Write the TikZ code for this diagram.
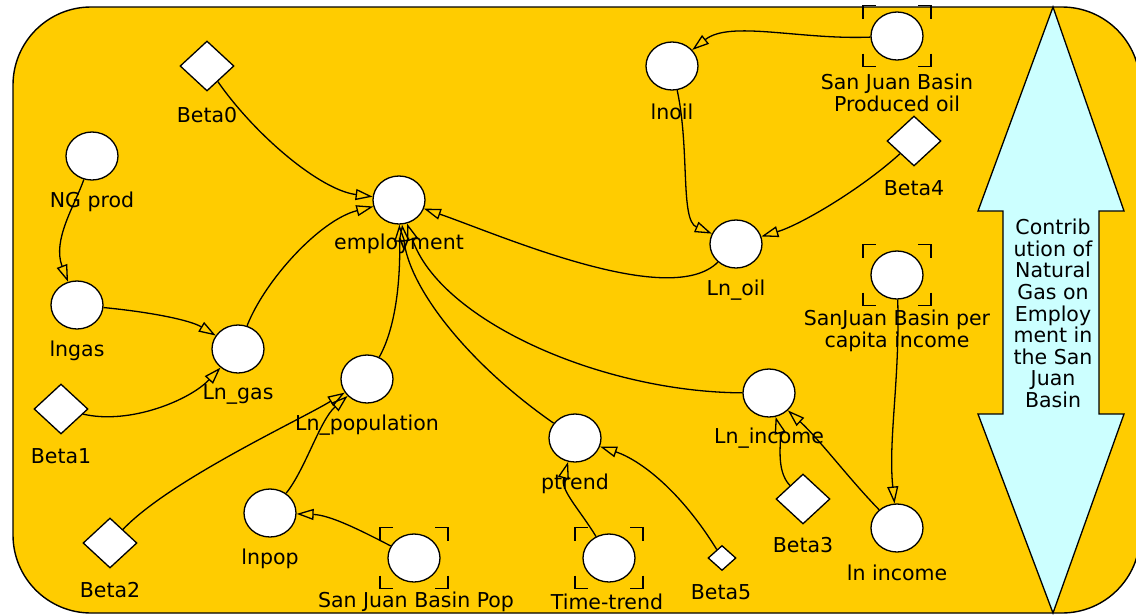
\documentclass[tikz,border=0pt]{standalone}
\usepackage{fontspec}
\setmainfont{DejaVu Sans}
\usetikzlibrary{shapes.geometric,arrows.meta}
\definecolor{bgyellow}{RGB}{255,204,0}
\definecolor{arrowcyan}{RGB}{204,255,255}
\tikzset{
  every node/.style={font=\fontsize{20.5}{21.6}\selectfont},
  var/.style={ellipse,draw=black,fill=white,line width=1.3pt,minimum width=52pt,minimum height=48pt,inner sep=0pt},
  par/.style={diamond,draw=black,fill=white,line width=1.3pt,minimum width=54pt,minimum height=50pt,inner sep=0pt},
  smallpar/.style={diamond,draw=black,fill=white,line width=1.3pt,minimum width=28pt,minimum height=25pt,inner sep=0pt},
  lbl/.style={inner sep=0pt,align=center},
  link/.style={draw=black,line width=1.3pt,-{Triangle[open,length=17pt,width=11pt]}},
  pics/brk/.style={code={
    \draw[line width=1.3pt] (-34,-17.5) -- (-34,-30.5) -- (-21,-30.5);
    \draw[line width=1.3pt] (34,-17.5) -- (34,-30.5) -- (21,-30.5);
    \draw[line width=1.3pt] (-34,17.5) -- (-34,30.5) -- (-21,30.5);
    \draw[line width=1.3pt] (34,17.5) -- (34,30.5) -- (21,30.5);
  }}
}
\begin{document}
\begin{tikzpicture}[x=1pt,y=-1pt]
\useasboundingbox (0,0) rectangle (1136,614);
% frame
\draw[fill=bgyellow,line width=1.4pt,rounded corners=78pt] (13,7) rectangle (1140,613);
% big double arrow
\draw[fill=arrowcyan,line width=1.3pt,line join=miter] (1053,7) -- (1124,211) -- (1099,211) -- (1099,414) -- (1124,414) -- (1053,613) -- (978,414) -- (1003,414) -- (1003,211) -- (978,211) -- cycle;
\node[lbl] (contrib) at (1053,313.5) {Contrib\\ution of\\Natural\\Gas on\\Employ\\ment in\\the San\\Juan\\Basin};

% nodes
\node[var] (emp) at (399,200) {};
\node[lbl] (emp-t) at (399,244) {employment};
\node[var] (ngprod) at (92,156) {};
\node[lbl] (ngprod-t) at (92,202) {NG prod};
\node[var] (lngas) at (77,305) {};
\node[lbl] (lngas-t) at (77,351) {lngas};
\node[var] (lngas2) at (238,349) {};
\node[lbl] (lngas2-t) at (238,394) {Ln\_gas};
\node[par] (beta1) at (61,409) {};
\node[lbl] (beta1-t) at (61,456) {Beta1};
\node[par] (beta0) at (207,66) {};
\node[lbl] (beta0-t) at (207,115) {Beta0};
\node[var] (lnpop2) at (367,379) {};
\node[lbl] (lnpop2-t) at (367,425) {Ln\_population};
\node[var] (lnpop) at (270,513) {};
\node[lbl] (lnpop-t) at (270,559) {lnpop};
\node[var] (sjpop) at (414,558) {};
\pic at (sjpop) {brk};
\node[lbl] (sjpop-t) at (416,602) {San Juan Basin Pop};
\node[par] (beta2) at (110,543) {};
\node[lbl] (beta2-t) at (110,590) {Beta2};
\node[var] (ptrend) at (575,438) {};
\node[lbl] (ptrend-t) at (575,484) {ptrend};
\node[var] (ttrend) at (609,558) {};
\pic at (ttrend) {brk};
\node[lbl] (ttrend-t) at (607,602) {Time-trend};
\node[smallpar] (beta5) at (722,558) {};
\node[lbl] (beta5-t) at (721,592) {Beta5};
\node[var] (lninc2) at (769,393) {};
\node[lbl] (lninc2-t) at (769,438) {Ln\_income};
\node[par] (beta3) at (803,499) {};
\node[lbl] (beta3-t) at (803,545) {Beta3};
\node[var] (lninc) at (897,528) {};
\node[lbl] (lninc-t) at (897,573) {ln income};
\node[var] (sjinc) at (897,275) {};
\pic at (sjinc) {brk};
\node[lbl] (sjinc-t) at (897,331) {SanJuan Basin per\\capita income};
\node[var] (sjoil) at (897,36) {};
\pic at (sjoil) {brk};
\node[lbl] (sjoil-t) at (897,93) {San Juan Basin\\Produced oil};
\node[par] (beta4) at (914,141) {};
\node[lbl] (beta4-t) at (914,188) {Beta4};
\node[var] (lnoil) at (672,66) {};
\node[lbl] (lnoil-t) at (672,112) {lnoil};
\node[var] (lnoil2) at (736,244) {};
\node[lbl] (lnoil2-t) at (736,290) {Ln\_oil};

% connectors
\draw[link] (beta0) .. controls (255,135) and (320,190) .. (emp);
\draw[link] (lngas2) .. controls (265,280) and (320,220) .. (emp);
\draw[link] (ngprod) .. controls (75,205) and (52,240) .. (lngas);
\draw[link] (lngas) .. controls (150,312) and (190,320) .. (lngas2);
\draw[link] (beta1) .. controls (130,425) and (190,400) .. (lngas2);
\draw[link] (lnpop2) .. controls (400,320) and (400,260) .. (emp);
\draw[link] (beta2) .. controls (170,480) and (300,420) .. (lnpop2);
\draw[link] (lnpop) .. controls (305,470) and (320,420) .. (lnpop2);
\draw[link] (sjpop) .. controls (360,530) and (330,515) .. (lnpop);
\draw[link] (ptrend) .. controls (470,365) and (410,290) .. (emp);
\draw[link] (lninc2) .. controls (600,392) and (440,320) .. (emp);
\draw[link] (ttrend) .. controls (580,510) and (560,490) .. (ptrend);
\draw[link] (beta5) .. controls (680,490) and (640,460) .. (ptrend);
\draw[link] (beta3) .. controls (775,470) and (782,440) .. (lninc2);
\draw[link] (lninc) .. controls (850,480) and (820,440) .. (lninc2);
\draw[link] (sjinc) .. controls (900,380) and (888,440) .. (lninc);
\draw[link] (sjoil) .. controls (800,40) and (730,20) .. (lnoil);
\draw[link] (lnoil) .. controls (690,150) and (680,220) .. (lnoil2);
\draw[link] (beta4) .. controls (860,190) and (800,225) .. (lnoil2);
\draw[link] (lnoil2) .. controls (670,310) and (500,235) .. (emp);
\end{tikzpicture}
\end{document}
